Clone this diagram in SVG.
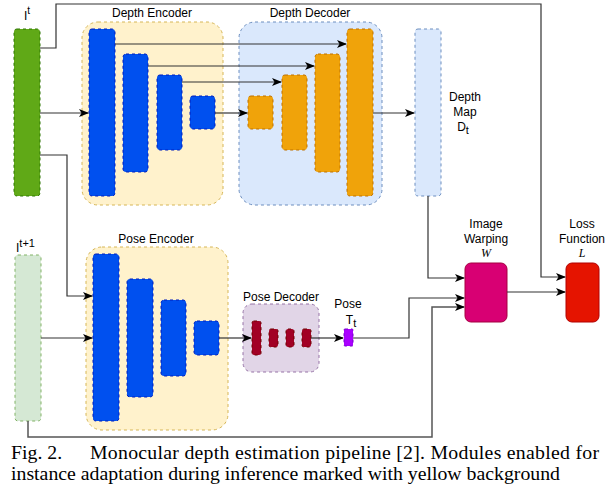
<svg xmlns="http://www.w3.org/2000/svg" width="613" height="493" viewBox="0 0 613 493">
<style>
.lbl{font-family:"Liberation Sans",Arial,sans-serif;font-size:12px;fill:#000;text-anchor:middle}
.ital{font-family:"Liberation Serif","Times New Roman",serif;font-style:italic;font-size:12px;fill:#000;text-anchor:middle}
.cap{font-family:"Liberation Serif","Times New Roman",serif;font-size:19.8px;fill:#000}
.c{fill:none;stroke:#333;stroke-width:1.2}
.enc{fill:#fff2cc;stroke:#d6b656;stroke-dasharray:3 3}
.dec{fill:#dae8fc;stroke:#6c8ebf;stroke-dasharray:3 3}
.pdc{fill:#e1d5e7;stroke:#9673a6;stroke-dasharray:3 3}
.blue{fill:#0050ef;stroke:#001dbc;stroke-dasharray:3 3}
.org{fill:#f0a30a;stroke:#bd7000;stroke-dasharray:3 3}
.red{fill:#a20025;stroke:#6f0000;stroke-dasharray:3 3}
</style>
<defs>
<marker id="arr" markerUnits="userSpaceOnUse" markerWidth="10" markerHeight="10" viewBox="0 0 10 10" refX="9" refY="5" orient="auto">
<path d="M0,1 L10,5 L0,9 L2.5,5 z" fill="#000"/>
</marker>
</defs>

<g id="depth-encoder">
<rect class="enc" x="82" y="22" width="141" height="183" rx="16"/>
<text class="lbl" x="152" y="17">Depth Encoder</text>
<rect class="blue" x="89" y="29" width="26" height="167" rx="3"/>
<rect class="blue" x="123" y="54" width="25" height="118" rx="3"/>
<rect class="blue" x="157" y="75" width="25" height="75" rx="3"/>
<rect class="blue" x="190" y="96" width="25" height="33" rx="3"/>
</g>

<g id="depth-decoder">
<rect class="dec" x="239" y="22" width="143" height="183" rx="16"/>
<text class="lbl" x="310" y="17">Depth Decoder</text>
<rect class="org" x="248" y="96" width="25" height="33" rx="3"/>
<rect class="org" x="282" y="75" width="25" height="75" rx="3"/>
<rect class="org" x="315" y="54" width="25" height="118" rx="3"/>
<rect class="org" x="347" y="29" width="26" height="167" rx="3"/>
</g>

<g id="pose-encoder">
<rect class="enc" x="86" y="247" width="142" height="183" rx="16"/>
<text class="lbl" x="156" y="243">Pose Encoder</text>
<rect class="blue" x="93" y="254" width="26" height="167" rx="3"/>
<rect class="blue" x="127" y="279" width="26" height="118" rx="3"/>
<rect class="blue" x="161" y="300" width="25" height="76" rx="3"/>
<rect class="blue" x="194" y="321" width="25" height="34" rx="3"/>
</g>

<g id="pose-decoder">
<rect class="pdc" x="243" y="304" width="76" height="68" rx="9"/>
<text class="lbl" x="281" y="301">Pose Decoder</text>
<rect class="red" x="252" y="321" width="9" height="34" rx="2"/>
<rect class="red" x="269" y="329" width="9" height="18" rx="2"/>
<rect class="red" x="286" y="329" width="8" height="18" rx="2"/>
<rect class="red" x="302" y="329" width="9" height="18" rx="2"/>
</g>

<g id="input-t">
<rect x="14" y="29" width="26" height="167" rx="3" fill="#60a917" stroke="#2d7600" stroke-dasharray="3 3"/>
<text class="lbl" x="24" y="20" style="text-anchor:start">I<tspan dy="-6" font-size="10">t</tspan></text>
</g>

<g id="input-t1">
<rect x="15" y="255" width="26" height="166" rx="3" fill="#d5e8d4" stroke="#82b366" stroke-dasharray="3 3"/>
<text class="lbl" x="16" y="252" style="text-anchor:start">I<tspan dy="-5" font-size="11">t+1</tspan></text>
</g>

<g id="depth-map">
<rect class="dec" x="415" y="29" width="26" height="167" rx="3"/>
<text class="lbl" x="465" y="101">Depth</text>
<text class="lbl" x="465" y="116">Map</text>
<text class="lbl" x="463" y="131">D<tspan dy="3" font-size="11">t</tspan></text>
</g>

<g id="pose">
<rect x="344" y="329" width="9" height="17" rx="1" fill="#aa00ff" stroke="#7700cc" stroke-dasharray="3 3"/>
<text class="lbl" x="348" y="308">Pose</text>
<text class="lbl" x="351" y="324">T<tspan dy="3" font-size="11">t</tspan></text>
</g>

<g id="image-warping">
<rect x="465" y="263" width="42" height="59" rx="6" fill="#d80073" stroke="#a50040"/>
<text class="lbl" x="486" y="228">Image</text>
<text class="lbl" x="486" y="243">Warping</text>
<text class="ital" x="486" y="257">W</text>
</g>

<g id="loss-function">
<rect x="566" y="263" width="33" height="59" rx="6" fill="#e51400" stroke="#b20000"/>
<text class="lbl" x="582" y="228">Loss</text>
<text class="lbl" x="582" y="243">Function</text>
<text class="ital" x="582" y="257">L</text>
</g>

<g id="connectors">
<path class="c" d="M40,48 H56 V4 H541 V277 H565" marker-end="url(#arr)"/>
<path class="c" d="M40,113 H88" marker-end="url(#arr)"/>
<path class="c" d="M40,155 H67 V296 H92" marker-end="url(#arr)"/>
<path class="c" d="M115,44 H346" marker-end="url(#arr)"/>
<path class="c" d="M148,66 H314" marker-end="url(#arr)"/>
<path class="c" d="M182,82 H281" marker-end="url(#arr)"/>
<path class="c" d="M215,113 H247" marker-end="url(#arr)"/>
<path class="c" d="M373,113 H414" marker-end="url(#arr)"/>
<path class="c" d="M428,196 V278 H464" marker-end="url(#arr)"/>
<path class="c" d="M507,292 H565" marker-end="url(#arr)"/>
<path class="c" d="M41,338 H92" marker-end="url(#arr)"/>
<path class="c" d="M219,338 H251" marker-end="url(#arr)"/>
<path class="c" d="M311,338 H343" marker-end="url(#arr)"/>
<path class="c" d="M353,338 H409 V298 H464" marker-end="url(#arr)"/>
<path class="c" d="M28,421 V437 H432 V307 H464" marker-end="url(#arr)" style="stroke:#555;stroke-width:1.5"/>
</g>

<g id="caption">
<text class="cap" x="11" y="459">Fig. 2.</text>
<text class="cap" x="90" y="459" textLength="509" lengthAdjust="spacing">Monocular depth estimation pipeline [2]. Modules enabled for</text>
<text class="cap" x="11" y="480" textLength="549" lengthAdjust="spacing">instance adaptation during inference marked with yellow background</text>
</g>
</svg>
